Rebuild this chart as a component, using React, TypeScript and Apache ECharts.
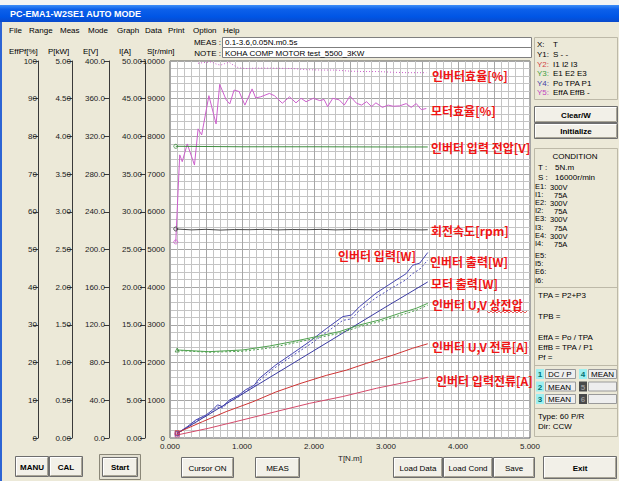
import React, { useEffect, useRef } from "react";
import * as echarts from "echarts";

// ---------------- DATA ----------------
const titleText = "PC-EMA1-W2SE1 AUTO MODE";
const menuItems = ["File", "Range", "Meas", "Mode", "Graph", "Data", "Print", "Option", "Help"];
const axisHeaders = ["EffPf[%]", "P[kW]", "E[V]", "I[A]", "S[r/min]"];
const measText = "0.1-3.6,0.05N.m0.5s";
const noteText = "KOHA COMP MOTOR test_5500_3KW";

// Inverter efficiency (EffB) [%] - dotted magenta
const invEffT = [0.39, 0.58, 0.64, 0.7, 0.76, 0.82, 0.88, 0.95, 1.05, 1.2, 1.4, 1.7, 1.9, 2.1, 2.3, 2.5, 2.7, 2.9, 3.1, 3.3, 3.45, 3.56];
const invEff = [99.4, 99.8, 99.2, 98.9, 99.3, 99.7, 98.9, 98.2, 98.0, 98.1, 98.1, 98.0, 97.7, 97.6, 97.6, 97.3, 97.2, 97.2, 97.0, 96.9, 96.9, 96.9];

// Motor efficiency (EffA) [%] - solid magenta
const motorEffT = [0.08, 0.135, 0.17, 0.24, 0.34, 0.39, 0.44, 0.54, 0.64, 0.69, 0.78, 0.83, 0.89, 0.96, 1.04, 1.14, 1.19, 1.26, 1.38, 1.45, 1.56, 1.66, 1.75, 1.82, 1.89, 1.99, 2.08, 2.14, 2.19, 2.26, 2.35, 2.42, 2.5, 2.59, 2.66, 2.73, 2.8, 2.86, 2.95, 3.03, 3.1, 3.19, 3.28, 3.35, 3.42, 3.49, 3.56];
const motorEff = [52.0, 75.1, 73.3, 78.0, 72.4, 82.0, 80.4, 90.8, 83.3, 93.8, 89.7, 88.6, 92.3, 91.9, 88.3, 92.6, 90.2, 90.5, 91.4, 90.8, 88.8, 90.5, 88.9, 90.1, 89.2, 90.1, 89.5, 89.8, 87.9, 90.1, 89.7, 88.3, 90.7, 88.8, 88.3, 89.2, 87.9, 88.9, 87.7, 88.3, 88.0, 88.1, 88.7, 87.7, 88.7, 87.1, 87.4];

// Inverter input voltage (E1) [V]
const inVoltT = [0.08, 1.0, 2.0, 3.0, 3.58];
const inVolt = [309.5, 309.0, 309.0, 308.8, 308.8];

// Rotation speed (S) [r/min]
const speedT = [0.08, 0.3, 0.5, 0.7, 0.9, 1.1, 1.3, 1.5, 1.7, 1.9, 2.1, 2.3, 2.5, 2.7, 2.9, 3.1, 3.3, 3.5, 3.58];
const speed = [5545, 5520, 5535, 5515, 5530, 5525, 5535, 5520, 5530, 5525, 5535, 5520, 5530, 5525, 5520, 5530, 5525, 5520, 5525];

// Powers [kW]
const powerT = [0.1, 0.24, 0.36, 0.5, 0.59, 0.66, 0.73, 0.82, 0.96, 1.05, 1.17, 1.24, 1.47, 1.7, 1.94, 2.17, 2.4, 2.52, 2.63, 2.86, 3.1, 3.28, 3.37, 3.47, 3.58];
const inPower = [0.06, 0.15, 0.24, 0.305, 0.37, 0.44, 0.415, 0.5, 0.57, 0.64, 0.7, 0.79, 0.97, 1.12, 1.28, 1.45, 1.61, 1.63, 1.74, 1.92, 2.07, 2.18, 2.29, 2.32, 2.46];
const outPower = [0.06, 0.14, 0.23, 0.29, 0.35, 0.41, 0.4, 0.48, 0.55, 0.62, 0.68, 0.76, 0.94, 1.09, 1.24, 1.4, 1.56, 1.58, 1.69, 1.86, 2.0, 2.1, 2.18, 2.24, 2.36];
const motorPowerT = [0.1, 1.0, 2.0, 3.0, 3.58];
const motorPower = [0.06, 0.58, 1.16, 1.74, 2.07];

// Inverter U,V phase voltage [V]
const phaseVT = [0.1, 0.54, 1.01, 1.38, 1.7, 2.03, 2.35, 2.63, 2.91, 3.19, 3.42, 3.58];
const phaseV = [93.4, 91.6, 93.4, 97.6, 102.2, 107.5, 112.8, 119.9, 125.2, 132.3, 137.6, 142.9];
const phaseV2 = [92.8, 91.0, 92.0, 95.5, 100.5, 106.0, 111.0, 118.0, 123.5, 130.0, 135.5, 141.0];

// Currents [A]
const uvCurT = [0.1, 0.45, 0.78, 1.15, 1.47, 1.8, 2.17, 2.45, 2.73, 3.1, 3.37, 3.58];
const uvCur = [0.7, 2.16, 3.5, 4.8, 6.1, 7.2, 8.3, 9.0, 9.9, 11.0, 11.9, 12.5];
const inCurT = [0.1, 0.54, 1.01, 1.47, 1.94, 2.4, 2.87, 3.33, 3.58];
const inCur = [0.4, 1.3, 2.4, 3.5, 4.6, 5.5, 6.6, 7.5, 8.05];

// Annotation labels (Korean)
const seriesLabels = [
  "인버터효율[%]", "모터효율[%]", "인버터 입력 전압[V]", "회전속도[rpm]", "인버터 입력[W]",
  "인버터 출력[W]", "모터 출력[W]", "인버터 U,V 상전압", "인버터 U,V 전류[A]", "인버터 입력전류[A]",
];

// Right panel texts
const legendKeys = ["X:", "Y1:", "Y2:", "Y3:", "Y4:", "Y5:"];
const legendVals = ["T", "S - -", "I1 I2 I3", "E1 E2 E3", "Po TPA P1", "EffA EffB -"];
const condKeys = ["E1:", "I1:", "E2:", "I2:", "E3:", "I3:", "E4:", "I4:", "E5:", "I5:", "E6:", "I6:"];
const condVals = ["300V", "75A", "300V", "75A", "300V", "75A", "300V", "75A", "", "", "", ""];
const formulas = ["TPA = P2+P3", "TPB =", "EffA = Po / TPA", "EffB = TPA / P1", "Pf ="];
const chanNums = ["1", "2", "3", "4", "5", "6"];
const chanVals = ["DC / P", "MEAN", "MEAN", "MEAN", "", ""];

// ---------------- HELPERS ----------------
const FONT = '"Liberation Sans", Arial, sans-serif';
const KFONT = '"Noto Sans CJK KR", sans-serif';
const MAJOR = "#A6A6A6";
const MINOR = "#C4C4C4";
const zip = (t: number[], v: number[]) => t.map((x, i) => [x, v[i]]);

function txt(x: number, y: number, text: string, o: any = {}) {
  return {
    type: "text",
    x,
    y,
    silent: true,
    z: o.z ?? 20,
    style: {
      text,
      fill: o.fill || "#000",
      font: `${o.weight || "normal"} ${o.size || 8}px ${o.family || FONT}`,
      align: o.align || "left",
      textAlign: o.align || "left",
      verticalAlign: "middle",
      textVerticalAlign: "middle",
    },
  };
}

function rect(x: number, y: number, w: number, h: number, fill: string, stroke?: string, z = 10) {
  return {
    type: "rect",
    silent: true,
    z,
    shape: { x: stroke ? x + 0.5 : x, y: stroke ? y + 0.5 : y, width: stroke ? w - 1 : w, height: stroke ? h - 1 : h },
    style: { fill, stroke: stroke || null, lineWidth: 1 },
  };
}

function line(x1: number, y1: number, x2: number, y2: number, color: string, z = 12) {
  return { type: "line", silent: true, z, shape: { x1, y1, x2, y2 }, style: { stroke: color, lineWidth: 1 } };
}

function button(x: number, y: number, w: number, h: number, label: string, bold = false) {
  return [
    rect(x, y, w, h, "#F2F0E8", "#6E6E6E", 10),
    line(x + 1.5, y + 1.5, x + w - 2, y + 1.5, "#FFFFFF"),
    line(x + 1.5, y + 1.5, x + 1.5, y + h - 2, "#FFFFFF"),
    line(x + 1.5, y + h - 1.5, x + w - 1.5, y + h - 1.5, "#A8A496"),
    line(x + w - 1.5, y + 1.5, x + w - 1.5, y + h - 1.5, "#A8A496"),
    txt(x + w / 2, y + h / 2 + 0.5, label, { align: "center", weight: bold ? "bold" : "normal" }),
  ];
}

function buildGraphics() {
  const g: any[] = [];
  // window top and title bar
  g.push(rect(0, 0, 619, 5, "#F3F3F3"));
  g.push({
    type: "rect",
    silent: true,
    z: 10,
    shape: { x: 0, y: 5, width: 619, height: 17 },
    style: {
      fill: new echarts.graphic.LinearGradient(0, 0, 0, 1, [
        { offset: 0, color: "#3D8DF7" },
        { offset: 0.25, color: "#0D60EA" },
        { offset: 0.7, color: "#0055E5" },
        { offset: 1, color: "#0A4ACB" },
      ]),
    },
  });
  g.push(txt(10, 14, titleText, { fill: "#FFFFFF", weight: "bold", size: 9 }));
  g.push(rect(0, 22, 2, 459, "#2D64D4"));

  // menu
  const menuX = [9, 29, 60, 88, 117, 145, 168, 193, 223];
  menuItems.forEach((m, i) => g.push(txt(menuX[i], 30, m)));

  // axis headers
  const hdrX = [9, 48, 83, 119, 147];
  axisHeaders.forEach((h, i) => g.push(txt(hdrX[i], 51, h)));

  // MEAS / NOTE boxes
  g.push(txt(221, 42, "MEAS :", { align: "right" }));
  g.push(txt(221, 53, "NOTE :", { align: "right" }));
  g.push(rect(222, 37, 310, 11, "#FFFFFF", "#7F7F7F"));
  g.push(rect(222, 47, 310, 11, "#FFFFFF", "#7F7F7F"));
  g.push(txt(225, 42.5, measText));
  g.push(txt(225, 53, noteText));

  // right panel legend
  g.push(rect(534, 37, 84, 63, "none", "#BDB9A8"));
  const legendColors = ["#000", "#000", "#D04444", "#3E9E3E", "#4444A6", "#C046C0"];
  const legendY = [44, 54, 64, 73, 83, 92];
  legendKeys.forEach((k, i) => {
    g.push(txt(537, legendY[i], k, { fill: legendColors[i] }));
    g.push(txt(553, legendY[i], legendVals[i]));
  });
  g.push(...button(534, 106, 84, 17, "Clear/W", true));
  g.push(...button(534, 123, 84, 16, "Initialize", true));

  // condition group
  g.push(rect(534, 148, 84, 289, "none", "#BDB9A8"));
  g.push(txt(575, 156, "CONDITION", { align: "center" }));
  g.push(txt(538, 167, "T :"));
  g.push(txt(555, 167, "5N.m"));
  g.push(txt(538, 177, "S :"));
  g.push(txt(555, 177, "16000r/min"));
  const condY = [186, 194, 202, 210, 218.5, 227, 235, 243, 255, 263, 271.5, 280];
  condKeys.forEach((k, i) => {
    g.push(txt(535, condY[i], k, { size: 7.5 }));
    if (condVals[i]) g.push(txt(k.startsWith("E") ? 550 : 554, condY[i] + 1, condVals[i], { size: 7.5 }));
  });
  g.push(line(535, 287.5, 617, 287.5, "#BDB9A8"));
  const formY = [295, 316, 337, 347, 357];
  formulas.forEach((f, i) => g.push(txt(538, formY[i], f)));
  g.push(line(535, 365.5, 617, 365.5, "#BDB9A8"));
  const rowY = [369, 381.5, 394];
  chanNums.forEach((n, i) => {
    const col = i < 3 ? 0 : 1;
    const row = i % 3;
    const nx = col === 0 ? 536 : 579;
    const vx = col === 0 ? 545 : 588;
    const vw = col === 0 ? 31 : 29;
    const dark = i >= 4;
    g.push(rect(nx, rowY[row], 8, 10, dark ? "#4A4A4A" : "#9FEFF0"));
    g.push(txt(nx + 4, rowY[row] + 5.5, n, { align: "center", weight: "bold", fill: dark ? "#9A9A9A" : "#007070" }));
    g.push(rect(vx, rowY[row], vw, 10, "#EEEEEE", "#9A9A9A"));
    if (chanVals[i]) g.push(txt(vx + 3, rowY[row] + 5.5, chanVals[i]));
  });
  g.push(line(535, 408.5, 617, 408.5, "#BDB9A8"));
  g.push(txt(538, 416, "Type: 60 P/R"));
  g.push(txt(538, 426, "Dir: CCW"));

  // bottom buttons
  g.push(...button(15, 456, 34, 21, "MANU", true));
  g.push(...button(49, 456, 34, 21, "CAL", true));
  g.push(rect(99, 454, 42, 26, "#E3E0D2", "#8A8778"));
  g.push(...button(102, 457, 36, 20, "Start", true));
  g.push(...button(181, 457, 53, 21, "Cursor ON"));
  g.push(...button(255, 457, 45, 21, "MEAS"));
  g.push(...button(393, 457, 50, 21, "Load Data"));
  g.push(...button(443, 457, 50, 21, "Load Cond"));
  g.push(...button(493, 457, 42, 21, "Save"));
  g.push(...button(543, 456, 74, 23, "Exit", true));

  // red annotation labels
  const labelPos = [
    [432, 75], [431, 110], [431, 147], [431, 230], [338, 255],
    [430, 261], [431, 283], [432, 304], [432, 346], [436, 380],
  ];
  seriesLabels.forEach((s, i) =>
    g.push(txt(labelPos[i][0], labelPos[i][1], s, { fill: "#F01414", weight: "bold", size: 12, family: KFONT, z: 60 }))
  );
  // spell-check squiggle under the phase voltage label
  const sq: number[][] = [];
  for (let x = 487; x <= 528; x += 2) sq.push([x, (x - 487) % 4 === 0 ? 311 : 313]);
  g.push({ type: "polyline", silent: true, z: 60, shape: { points: sq }, style: { stroke: "#E03030", fill: "none", lineWidth: 0.8 } });
  return g;
}

function leftAxis(min: number, max: number, interval: number, offset: number, dec: number, margin: number) {
  return {
    type: "value",
    position: "left",
    offset,
    min,
    max,
    interval,
    axisLine: { show: true, onZero: false, lineStyle: { color: "#3A3A3A", width: 1 } },
    axisTick: { show: true, length: 5, lineStyle: { color: "#3A3A3A", width: 1 } },
    axisLabel: { fontSize: 8, fontFamily: FONT, color: "#222", margin, formatter: (v: number) => v.toFixed(dec) },
    splitLine: { show: false },
  };
}

function lineSeries(name: string, yAxisIndex: number, data: number[][], color: string, dash?: any) {
  return {
    name,
    type: "line",
    yAxisIndex,
    data,
    symbol: "none",
    showSymbol: false,
    lineStyle: { color, width: 1, type: dash || "solid" },
    z: 3,
  };
}

function startMark(yAxisIndex: number, t: number[], v: number[], color: string, symbol: string) {
  return {
    type: "scatter",
    yAxisIndex,
    data: [[t[0], v[0]]],
    symbol,
    symbolSize: 4,
    itemStyle: { color: "none", borderColor: color, borderWidth: 1 },
    z: 4,
  };
}

// every 5th grid line is a major one
const gridColors = [MAJOR, MINOR, MINOR, MINOR, MINOR];
const isMultiple = (v: number, step: number) => Math.abs(v / step - Math.round(v / step)) < 1e-6;

function buildOption() {
  return {
    animation: false,
    backgroundColor: "#ECE9D8",
    textStyle: { fontFamily: FONT },
    grid: {
      left: 170,
      top: 61,
      width: 360,
      height: 377,
      show: true,
      backgroundColor: "#FFFFFF",
      borderColor: "#5A5A5A",
      borderWidth: 1,
    },
    xAxis: {
      type: "value",
      min: 0,
      max: 5,
      interval: 0.1,
      name: "T[N.m]",
      nameLocation: "middle",
      nameGap: 14,
      nameTextStyle: { fontSize: 8, fontFamily: FONT, color: "#222" },
      axisLine: { show: false, onZero: false },
      axisTick: { show: false },
      axisLabel: {
        fontSize: 8,
        fontFamily: FONT,
        color: "#222",
        margin: 4,
        hideOverlap: false,
        formatter: (v: number) => (isMultiple(v, 1) ? v.toFixed(3) : ""),
      },
      splitLine: { show: true, lineStyle: { color: gridColors, width: 1 } },
    },
    yAxis: [
      leftAxis(0, 100, 10, 132, 0, 1),
      leftAxis(0, 5, 0.5, 98, 2, 1),
      leftAxis(0, 400, 40, 61, 1, 4),
      leftAxis(0, 50, 5, 25, 2, 3),
      {
        type: "value",
        position: "left",
        offset: 0,
        min: 0,
        max: 10000,
        interval: 200,
        axisLine: { show: false, onZero: false },
        axisTick: { show: false },
        axisLabel: {
          fontSize: 8,
          fontFamily: FONT,
          color: "#222",
          margin: 5,
          formatter: (v: number) => (isMultiple(v, 1000) ? String(v) : ""),
        },
        splitLine: { show: true, lineStyle: { color: gridColors, width: 1 } },
      },
    ],
    series: [
      lineSeries("EffB", 0, zip(invEffT, invEff), "#CC5FCC", [1, 2]),
      lineSeries("EffA", 0, zip(motorEffT, motorEff), "#CC5FCC"),
      lineSeries("E1", 2, zip(inVoltT, inVolt), "#3E8C3E"),
      lineSeries("S", 4, zip(speedT, speed), "#4A4A4A"),
      lineSeries("P1", 1, zip(powerT, inPower), "#4646B2"),
      lineSeries("TPA", 1, zip(powerT, outPower), "#5050BA", [2, 2]),
      lineSeries("Po", 1, zip(motorPowerT, motorPower), "#3A3AA2"),
      lineSeries("E2", 2, zip(phaseVT, phaseV), "#4EA24E"),
      lineSeries("E3", 2, zip(phaseVT, phaseV2), "#4EA24E", [2, 2]),
      lineSeries("I1", 3, zip(uvCurT, uvCur), "#CE3434"),
      lineSeries("I2", 3, zip(inCurT, inCur), "#D44A6A"),
      startMark(0, motorEffT, motorEff, "#CC5FCC", "circle"),
      startMark(2, inVoltT, inVolt, "#3E8C3E", "circle"),
      startMark(4, speedT, speed, "#333333", "circle"),
      startMark(2, phaseVT, phaseV, "#3E8C3E", "triangle"),
      startMark(1, powerT, inPower, "#4646B2", "rect"),
      startMark(3, uvCurT, uvCur, "#CE3434", "rect"),
      startMark(3, inCurT, inCur, "#B03080", "rect"),
    ],
    graphic: { elements: buildGraphics() },
  };
}

export default function App() {
  const ref = useRef<HTMLDivElement>(null);
  useEffect(() => {
    if (!ref.current) return;
    const chart = echarts.init(ref.current, undefined, { renderer: "svg" });
    chart.setOption(buildOption() as any);
    return () => chart.dispose();
  }, []);
  return <div ref={ref} style={{ position: "fixed", left: 0, top: 0, width: 619, height: 481 }} />;
}
